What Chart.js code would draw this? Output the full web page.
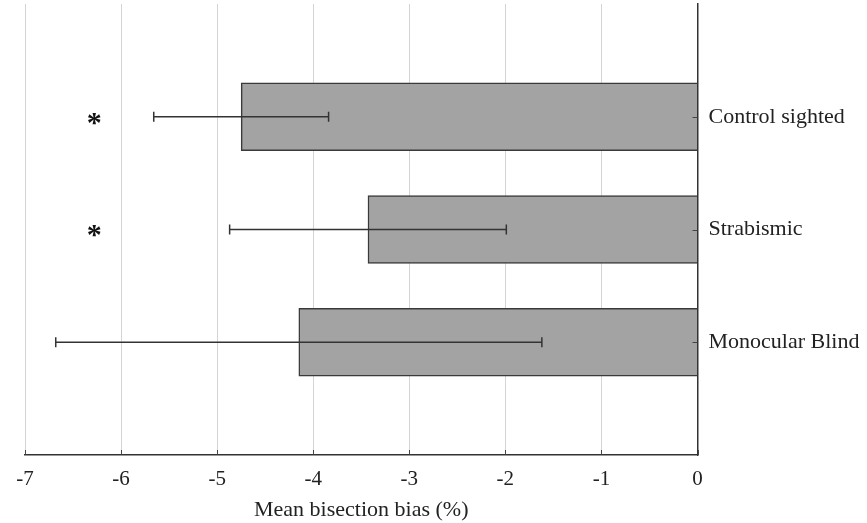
<!DOCTYPE html>
<html>
<head>
<meta charset="utf-8">
<script src="https://cdn.jsdelivr.net/npm/chart.js@4"></script>
<style>
  html, body { margin: 0; padding: 0; background: #fff; }
  #wrap { width: 867px; height: 523px; }
</style>
</head>
<body>
<div id="wrap"><canvas id="bias-chart" width="867" height="523"></canvas></div>
<script>
// Groups, top to bottom
const groups = ['Control sighted', 'Strabismic', 'Monocular Blind'];
// Mean bisection bias (%) and error bar half-widths
const meanBias = [-4.75, -3.43, -4.15];
const errBias = [0.91, 1.44, 2.53];
// Groups marked as significant, and where the star goes on the x axis
const significant = [true, true, false];
const starX = -6.28;
const xTicks = [-7, -6, -5, -4, -3, -2, -1, 0];

const serif = "'Liberation Serif', 'Times New Roman', serif";

// Error bars, stars and inward tick marks
const extras = {
    id: 'extras',
    afterDatasetsDraw(chart) {
        const ctx = chart.ctx;
        const xs = chart.scales.x;
        const ys = chart.scales.y;
        const area = chart.chartArea;
        ctx.save();
        ctx.strokeStyle = '#333';
        ctx.lineWidth = 1.5;
        meanBias.forEach((m, i) => {
            const y = ys.getPixelForValue(i + 1);
            const x1 = xs.getPixelForValue(m - errBias[i]);
            const x2 = xs.getPixelForValue(m + errBias[i]);
            ctx.beginPath();
            ctx.moveTo(x1, y); ctx.lineTo(x2, y);
            ctx.moveTo(x1, y - 5); ctx.lineTo(x1, y + 5);
            ctx.moveTo(x2, y - 5); ctx.lineTo(x2, y + 5);
            ctx.stroke();
        });

        // short ticks pointing into the plot
        ctx.strokeStyle = '#444';
        ctx.lineWidth = 1;
        ctx.beginPath();
        xTicks.forEach(v => {
            const x = Math.round(xs.getPixelForValue(v)) + 0.5;
            ctx.moveTo(x, area.bottom); ctx.lineTo(x, area.bottom - 5);
        });
        groups.forEach((g, i) => {
            const y = Math.round(ys.getPixelForValue(i + 1)) + 0.5;
            ctx.moveTo(area.right, y); ctx.lineTo(area.right - 5, y);
        });
        ctx.stroke();

        ctx.fillStyle = '#111';
        ctx.font = 'bold 30px ' + serif;
        ctx.textAlign = 'center';
        ctx.textBaseline = 'middle';
        significant.forEach((s, i) => {
            if (!s) return;
            ctx.fillText('*', xs.getPixelForValue(starX), ys.getPixelForValue(i + 1) + 7);
        });
        ctx.restore();
    }
};

new Chart(document.getElementById('bias-chart'), {
    type: 'bar',
    data: {
        datasets: [{
            data: meanBias.map((v, i) => ({ x: v, y: i + 1 })),
            backgroundColor: '#a3a3a3',
            borderColor: '#3a3a3a',
            borderWidth: 1.5,
            barThickness: 68
        }]
    },
    options: {
        indexAxis: 'y',
        responsive: false,
        animation: false,
        layout: { padding: { left: 25, top: 4, right: 0, bottom: 0 } },
        plugins: {
            legend: { display: false },
            tooltip: { enabled: false }
        },
        scales: {
            x: {
                type: 'linear',
                min: -7,
                max: 0,
                afterBuildTicks: scale => { scale.ticks = xTicks.map(v => ({ value: v })); },
                grid: { color: '#d4d4d4', lineWidth: 1, drawTicks: false },
                border: { display: true, color: '#333', width: 1.5 },
                ticks: {
                    color: '#222',
                    padding: 12,
                    font: { family: serif, size: 21 }
                },
                title: {
                    display: true,
                    text: 'Mean bisection bias (%)',
                    color: '#222',
                    padding: { top: 2, bottom: 0 },
                    font: { family: serif, size: 22 }
                },
                afterFit: scale => { scale.height = 68; }
            },
            y: {
                type: 'linear',
                position: 'right',
                reverse: true,
                offset: false,
                min: 0,
                max: 4,
                afterBuildTicks: scale => { scale.ticks = groups.map((g, i) => ({ value: i + 1 })); },
                grid: { display: false, drawTicks: false },
                border: { display: true, color: '#333', width: 1.5 },
                ticks: {
                    color: '#222',
                    padding: 11,
                    font: { family: serif, size: 22 },
                    callback: v => groups[v - 1] || ''
                },
                afterFit: scale => {
                    scale.width = 169.5;
                    scale.paddingTop = 0;
                    scale.paddingBottom = 0;
                }
            }
        }
    },
    plugins: [extras]
});
</script>
</body>
</html>
